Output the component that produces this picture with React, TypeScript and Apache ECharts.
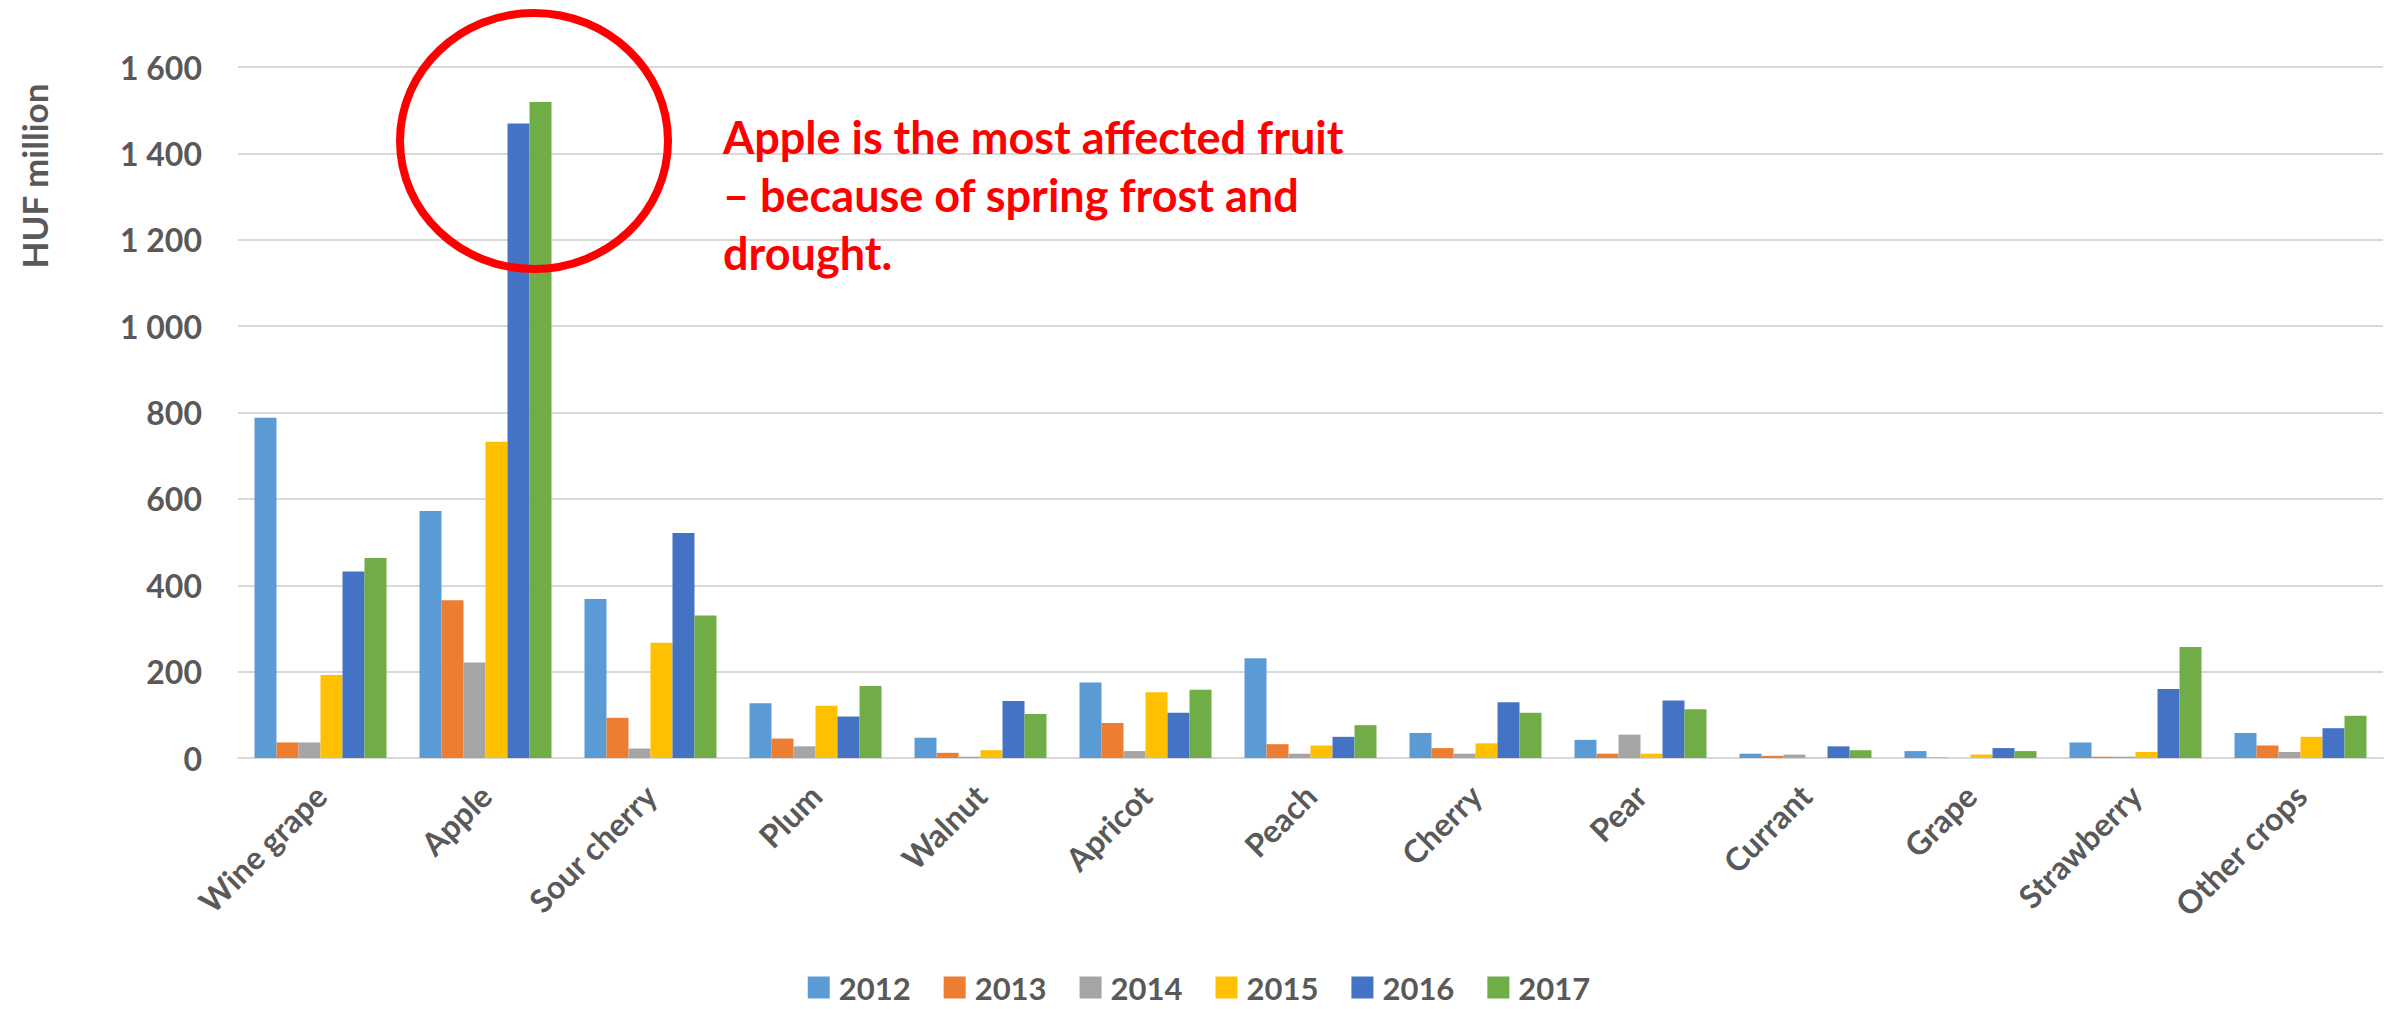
import React, { useEffect, useRef } from "react";
import * as echarts from "echarts";

const categories = ["Wine grape", "Apple", "Sour cherry", "Plum", "Walnut", "Apricot", "Peach", "Cherry", "Pear", "Currant", "Grape", "Strawberry", "Other crops"];
const years = ["2012", "2013", "2014", "2015", "2016", "2017"];
const v2012 = [788, 572, 368, 127, 47, 175, 231, 58, 42, 10, 16, 36, 58];
const v2013 = [36, 365, 93, 45, 12, 81, 32, 23, 10, 5, 1, 3, 29];
const v2014 = [36, 221, 22, 27, 3, 16, 10, 10, 54, 8, 0, 3, 14];
const v2015 = [192, 732, 267, 121, 18, 152, 29, 34, 10, 1, 8, 14, 49];
const v2016 = [432, 1469, 521, 96, 132, 105, 49, 129, 133, 27, 23, 160, 69];
const v2017 = [463, 1519, 330, 167, 102, 158, 76, 105, 113, 18, 16, 257, 98];
const seriesValues = [v2012, v2013, v2014, v2015, v2016, v2017];
const colors = ["#5B9BD5", "#ED7D31", "#A5A5A5", "#FFC000", "#4472C4", "#70AD47"];
const yTicks = { min: 0, max: 1600, interval: 200 };
const yAxisTitle = "HUF million";
const annotation = "Apple is the most affected fruit\n– because of spring frost and\ndrought.";

const fmt = (v: number) => String(v).replace(/\B(?=(\d{3})+(?!\d))/g, " ");

export default function App() {
  const ref = useRef<HTMLDivElement>(null);
  useEffect(() => {
    document.body.style.margin = "0";
    const chart = echarts.init(ref.current!, null, { renderer: "svg" });
    chart.setOption({
      animation: false,
      backgroundColor: "#ffffff",
      color: colors,
      grid: { left: 238, right: 15, top: 67, bottom: 251 },
      legend: {
        data: years,
        top: 972,
        left: "center",
        padding: 0,
        itemWidth: 22,
        itemHeight: 22,
        itemGap: 33,
        icon: "rect",
        textStyle: { fontFamily: "Lato", fontWeight: "bold", fontSize: 31, lineHeight: 31, color: "#595959", padding: [0, 0, 0, 4] },
      },
      xAxis: {
        type: "category",
        data: categories,
        axisLine: { lineStyle: { color: "#D9D9D9", width: 2 } },
        axisTick: { show: false },
        axisLabel: {
          rotate: 45,
          interval: 0,
          margin: 32,
          fontFamily: "Lato",
          fontWeight: "bold",
          fontSize: 32,
          color: "#595959",
        },
      },
      yAxis: {
        type: "value",
        min: yTicks.min,
        max: yTicks.max,
        interval: yTicks.interval,
        axisLine: { show: false },
        axisTick: { show: false },
        splitLine: { lineStyle: { color: "#D9D9D9", width: 2 } },
        axisLabel: {
          formatter: fmt,
          margin: 36,
          fontFamily: "Lato",
          fontWeight: "bold",
          fontSize: 32,
          color: "#595959",
        },
      },
      series: years.map((y, i) => ({
        name: y,
        type: "bar",
        data: seriesValues[i],
        barGap: "0%",
        barCategoryGap: "20%",
        itemStyle: { color: colors[i] },
      })),
      graphic: [
        {
          type: "text",
          rotation: Math.PI / 2,
          x: 34,
          y: 176,
          style: {
            text: yAxisTitle,
            fontFamily: "Lato",
            fontWeight: "bold",
            fontSize: 35,
            fill: "#595959",
            align: "center",
            verticalAlign: "middle",
          },
        },
        {
          type: "ellipse",
          shape: { cx: 534, cy: 141, rx: 134, ry: 128 },
          style: { fill: "none", stroke: "#FF0000", lineWidth: 8 },
          z: 100,
        },
        {
          type: "text",
          x: 723,
          y: 108,
          style: {
            text: annotation,
            fontFamily: "Lato",
            fontWeight: "bold",
            fontSize: 45,
            lineHeight: 58,
            fill: "#FF0000",
          },
          z: 100,
        },
      ],
    });
    return () => chart.dispose();
  }, []);
  return <div ref={ref} style={{ position: "fixed", left: 0, top: 0, width: 2398, height: 1009 }} />;
}
